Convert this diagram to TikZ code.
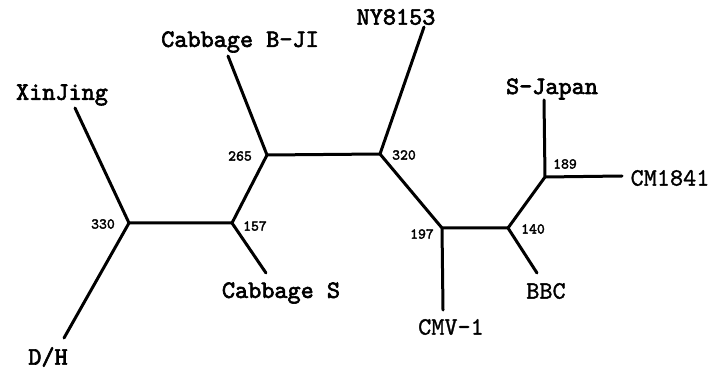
\documentclass[tikz,border=0pt]{standalone}
\usepackage{fontspec}
\newfontfamily\courb{lmmono10-regular.otf}[FakeBold=2.5]
\newfontfamily\courm{lmmono10-regular.otf}[FakeBold=1.2]
\begin{document}
\begin{tikzpicture}[x=1pt,y=-1pt,
  branch/.style={line width=3pt,line cap=round,line join=round},
  leaf/.style={inner sep=0pt,font=\courb\fontsize{25}{27}\selectfont},
  leafthin/.style={inner sep=0pt,font=\courm\fontsize{25}{27}\selectfont},
  num/.style={inner sep=0pt,font=\courb\fontsize{15}{16}\selectfont}]
\useasboundingbox (0,0) rectangle (717,371);
% internal nodes
\coordinate (n330) at (129,223);
\coordinate (n157) at (232,223);
\coordinate (n265) at (267,155);
\coordinate (n320) at (380,154);
\coordinate (n197) at (442,228);
\coordinate (n140) at (508,228);
\coordinate (n189) at (545,177);
% leaf ends
\coordinate (eXin) at (75,108);
\coordinate (eDH) at (64,338);
\coordinate (eCS) at (266,273);
\coordinate (eCB) at (228,56);
\coordinate (eNY) at (424,27);
\coordinate (eSJ) at (544,100);
\coordinate (eCM) at (622,176);
\coordinate (eBBC) at (537,273);
\coordinate (eCMV) at (443,310);
% branches
\draw[branch] (eXin) -- (n330) -- (eDH);
\draw[branch] (n330) -- (n157) -- (eCS);
\draw[branch] (n157) -- (n265) -- (eCB);
\draw[branch] (n265) -- (n320) -- (eNY);
\draw[branch] (n320) -- (n197) -- (eCMV);
\draw[branch] (n197) -- (n140) -- (eBBC);
\draw[branch] (n140) -- (n189) -- (eSJ);
\draw[branch] (n189) -- (eCM);
% leaf labels
\node[leaf] (lXin) at (62,95) {XinJing};
\node[leaf] (lDH) at (48,357) {D/H};
\node[leaf] (lCS) at (281,293) {Cabbage S};
\node[leaf] (lCB) at (240,42) {Cabbage B-JI};
\node[leaf] (lNY) at (396,17) {NY8153};
\node[leaf] (lSJ) at (552,89) {S-Japan};
\node[leafthin] (lCM) at (670,178) {CM1841};
\node[leafthin] (lBBC) at (546,291) {BBC};
\node[leafthin] (lCMV) at (451,327) {CMV-1};
% numbers
\node[num] (t330) at (103,224) {330};
\node[num] (t157) at (255,226) {157};
\node[num] (t265) at (240,156) {265};
\node[num] (t320) at (404,155) {320};
\node[num] (t197) at (422,234) {197};
\node[num] (t140) at (533,229) {140};
\node[num] (t189) at (565,164) {189};
\end{tikzpicture}
\end{document}
